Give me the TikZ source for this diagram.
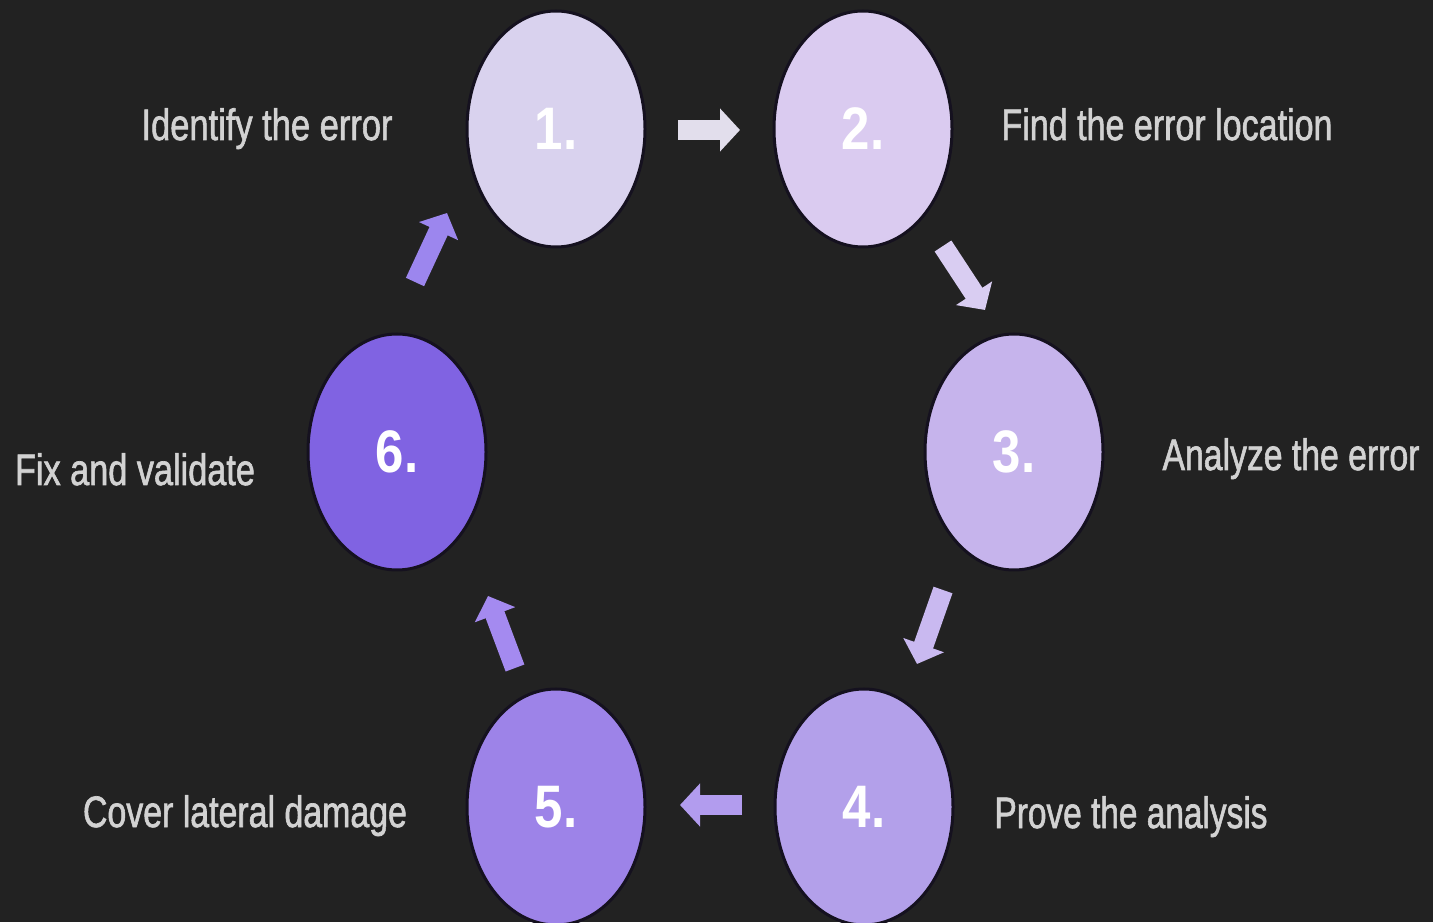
\documentclass[tikz,border=0pt]{standalone}
\usepackage{fontspec}
\setmainfont{Liberation Sans}
\newfontfamily\medfont{Liberation Sans}[FakeBold=1.6]
\usepackage{graphicx}
\usetikzlibrary{arrows.meta,shapes.geometric}
\definecolor{bgc}{HTML}{222222}
\definecolor{ringc}{HTML}{15111F}
\definecolor{labelc}{HTML}{D2D2D2}
\definecolor{c1}{HTML}{D9D2EE}
\definecolor{c2}{HTML}{DACBF0}
\definecolor{c3}{HTML}{C6B4EC}
\definecolor{c4}{HTML}{B3A0EA}
\definecolor{c5}{HTML}{9D83E8}
\definecolor{c6}{HTML}{8063E2}
\definecolor{a1}{HTML}{E2DEEC}
\definecolor{a2}{HTML}{D9CDF2}
\definecolor{a3}{HTML}{C9B9F0}
\definecolor{a4}{HTML}{B29CEE}
\definecolor{a5}{HTML}{A48AF0}
\definecolor{a6}{HTML}{9C86EE}
\newcommand\lab[2]{\resizebox{#1pt}{\height}{\medfont\fontsize{44}{44}\selectfont #2}}
\newcommand\numb[1]{\scalebox{0.85}[1]{\bfseries #1}}
\begin{document}
\begin{tikzpicture}[x=1pt,y=1pt,
  stage/.style={ellipse, minimum width=178pt, minimum height=236pt, inner sep=0pt,
    draw=ringc, line width=3pt, text=white, font=\fontsize{60}{60}\selectfont},
  lbl/.style={anchor=base, text=labelc, inner sep=0pt},
  blk/.style={line width=20pt, -{Triangle[length=20pt,width=42pt]}}]
\useasboundingbox (0,0) rectangle (1433,922);
\fill[bgc] (0,0) rectangle (1433,922);
\begin{scope}
\clip (0,0) rectangle (1433,922);
\node[stage, fill=c1] (n1) at (556,793) {\numb{1.}};
\node[stage, fill=c2] (n2) at (863,793) {\numb{2.}};
\node[stage, fill=c3] (n3) at (1014,470) {\numb{3.}};
\node[stage, fill=c4] (n4) at (864,115) {\numb{4.}};
\node[stage, fill=c5] (n5) at (556,115) {\numb{5.}};
\node[stage, fill=c6] (n6) at (397,470) {\numb{6.}};
\end{scope}

\node[lbl] (l1) at (267,782) {\lab{251}{Identify the error}};
\node[lbl] (l2) at (1167,782) {\lab{331}{Find the error location}};
\node[lbl] (l3) at (1291,452) {\lab{257}{Analyze the error}};
\node[lbl] (l4) at (1131,94) {\lab{273}{Prove the analysis}};
\node[lbl] (l5) at (245,95) {\lab{324}{Cover lateral damage}};
\node[lbl] (l6) at (135,437) {\lab{240}{Fix and validate}};

\coordinate (s12) at (678,792);
\coordinate (e12) at (740,792);
\coordinate (s23) at (943,676);
\coordinate (e23) at (985,612);
\coordinate (s34) at (943,332);
\coordinate (e34) at (917,258);
\coordinate (s45) at (742,117);
\coordinate (e45) at (680,117);
\coordinate (s56) at (515,254);
\coordinate (e56) at (488,326);
\coordinate (s61) at (415,640);
\coordinate (e61) at (447,709);

\draw[blk, a1] (s12) -- (e12);
\draw[blk, a2] (s23) -- (e23);
\draw[blk, a3] (s34) -- (e34);
\draw[blk, a4] (s45) -- (e45);
\draw[blk, a5] (s56) -- (e56);
\draw[blk, a6] (s61) -- (e61);
\end{tikzpicture}
\end{document}
